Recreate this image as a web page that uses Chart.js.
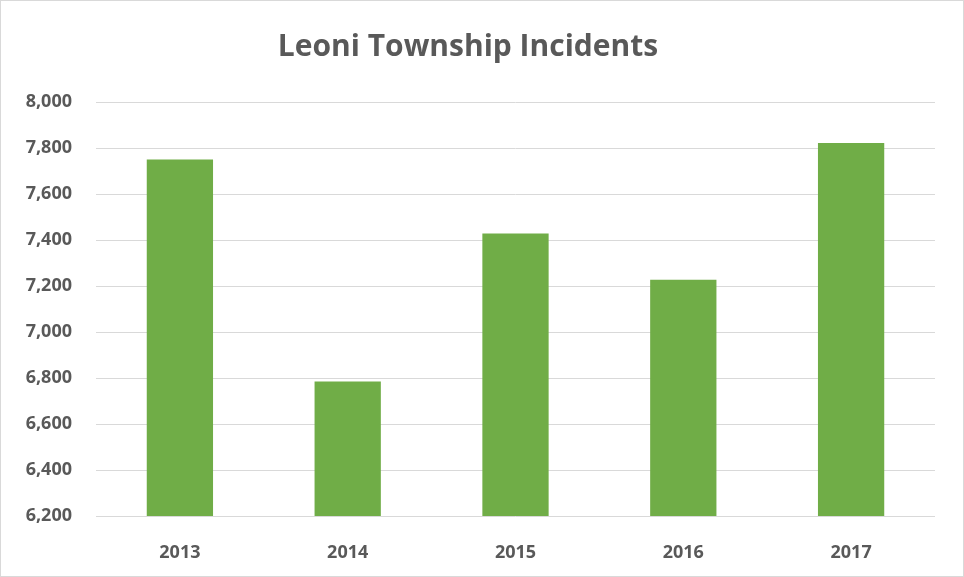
<!DOCTYPE html>
<html lang="en">
<head>
    <meta charset="UTF-8">
    <title>Leoni Township Incidents</title>
    <style>
        body {
            margin: 0;
            background-color: #ffffff;
        }

        #chartBox {
            width: 964px;
            height: 577px;
            box-sizing: border-box;
            border: 1px solid #d9d9d9;
        }
    </style>
    <script src="https://cdn.jsdelivr.net/npm/chart.js"></script>
</head>
<body>
    <div id="chartBox">
        <canvas id="incidentChart" width="962" height="575"></canvas>
    </div>

    <script>
        // Dados do gráfico
        const years = ["2013", "2014", "2015", "2016", "2017"];
        const incidents = [7750, 6785, 7428, 7227, 7822];
        const axisMin = 6200;
        const axisMax = 8000;
        const axisStep = 200;

        const labelFont = { family: "'Open Sans', 'Liberation Sans', sans-serif", size: 18, weight: "bold" };
        const grey = "#595959";

        const ctx = document.getElementById("incidentChart").getContext("2d");
        new Chart(ctx, {
            type: "bar",
            data: {
                labels: years,
                datasets: [{
                    label: "Incidents",
                    data: incidents,
                    backgroundColor: "#70ad47",
                    borderWidth: 0,
                    barPercentage: 0.395,
                    categoryPercentage: 1
                }]
            },
            options: {
                responsive: false,
                animation: false,
                layout: {
                    padding: { left: 0, right: 28, top: 0, bottom: 0 }
                },
                plugins: {
                    legend: { display: false },
                    tooltip: { enabled: false },
                    title: {
                        display: true,
                        text: "Leoni Township Incidents",
                        color: grey,
                        font: { family: "'Open Sans', 'Liberation Sans', sans-serif", size: 30, weight: "bold", lineHeight: 1.2 },
                        padding: { top: 28, bottom: 37 }
                    }
                },
                scales: {
                    x: {
                        grid: { display: false },
                        border: { display: false },
                        ticks: { color: grey, font: labelFont, padding: 18 },
                        afterFit: (scale) => { scale.height = 60; }
                    },
                    y: {
                        min: axisMin,
                        max: axisMax,
                        grid: { color: "#d9d9d9", lineWidth: 1, drawTicks: false },
                        border: { display: false },
                        ticks: {
                            stepSize: axisStep,
                            color: grey,
                            font: labelFont,
                            padding: 24,
                            callback: (v) => v.toLocaleString("en-US")
                        },
                        afterFit: (scale) => { scale.width = 95; }
                    }
                }
            }
        });
    </script>
</body>
</html>
